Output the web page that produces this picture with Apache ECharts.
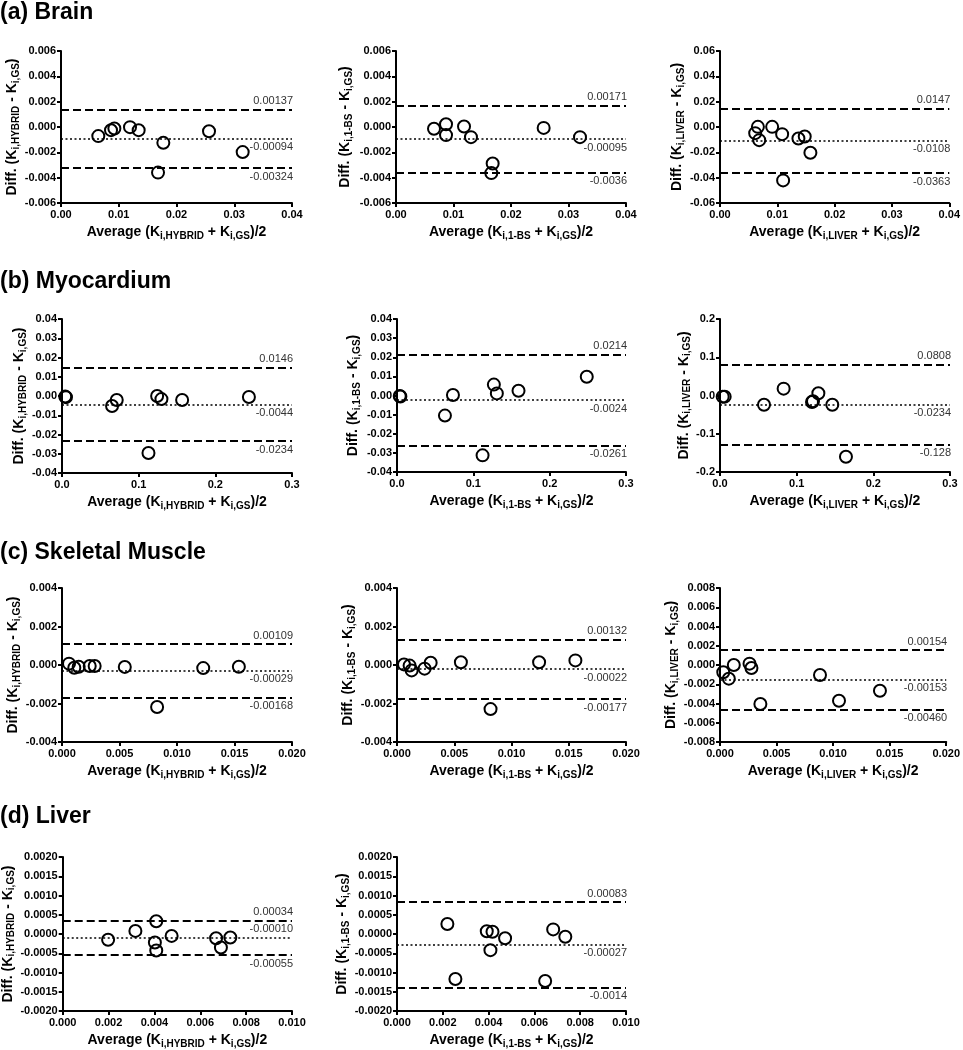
<!DOCTYPE html>
<html><head><meta charset="utf-8">
<script src="https://cdn.jsdelivr.net/npm/echarts@6/dist/echarts.min.js"></script>
<style>html,body{margin:0;padding:0;background:#fff}#c{width:963px;height:1050px}</style>
</head><body><div id="c"></div>
<script>
// ---------- DATA ----------
const rowHeadings = ['(a) Brain', '(b) Myocardium', '(c) Skeletal Muscle', '(d) Liver'];
const panelMethods = ['HYBRID', '1-BS', 'LIVER', 'HYBRID', '1-BS', 'LIVER', 'HYBRID', '1-BS', 'LIVER', 'HYBRID', '1-BS'];
const panelRows = [0, 0, 0, 1, 1, 1, 2, 2, 2, 3, 3];

// x-axis ticks per row: [min, max, interval, decimals]
const xTickRows = [[0, 0.04, 0.01, 2], [0, 0.3, 0.1, 1], [0, 0.02, 0.005, 3], [0, 0.01, 0.002, 3]];
// y-axis ticks per panel: [min, max, interval, decimals]
const yTickPanels = [
  [-0.006, 0.006, 0.002, 3], [-0.006, 0.006, 0.002, 3], [-0.06, 0.06, 0.02, 2],
  [-0.04, 0.04, 0.01, 2], [-0.04, 0.04, 0.01, 2], [-0.2, 0.2, 0.1, 1],
  [-0.004, 0.004, 0.002, 3], [-0.004, 0.004, 0.002, 3], [-0.008, 0.008, 0.002, 3],
  [-0.002, 0.002, 0.0005, 4], [-0.002, 0.002, 0.0005, 4]
];

// Brain
const brainHybridX = [0.00646, 0.00866, 0.00924, 0.01195, 0.01345, 0.01772, 0.0168, 0.02563, 0.03146];
const brainHybridY = [-0.00072, -0.00025, -0.00012, -0.00001, -0.00025, -0.00125, -0.0036, -0.00033, -0.00198];
const brainHybridLimits = ['0.00137', '-0.00094', '-0.00324'];
const brain1bsX = [0.00661, 0.0087, 0.0087, 0.01183, 0.01304, 0.01681, 0.01658, 0.02568, 0.032];
const brain1bsY = [-0.00014, 0.00022, -0.00064, 0.00004, -0.0008, -0.00288, -0.00364, -0.00007, -0.0008];
const brain1bsLimits = ['0.00171', '-0.00095', '-0.0036'];
const brainLiverX = [0.00614, 0.00661, 0.00684, 0.0091, 0.01084, 0.01368, 0.01478, 0.01577, 0.01101];
const brainLiverY = [-0.00486, 0.0001, -0.01037, 0.0001, -0.00565, -0.00906, -0.00748, -0.02035, -0.04215];
const brainLiverLimits = ['0.0147', '-0.0108', '-0.0363'];
// Myocardium
const myoHybridX = [0.0042, 0.0052, 0.0653, 0.0714, 0.1241, 0.1297, 0.1567, 0.2438, 0.1128];
const myoHybridY = [-0.0003, -0.0006, -0.0052, -0.0021, 0.0, -0.0016, -0.0021, -0.0005, -0.0296];
const myoHybridLimits = ['0.0146', '-0.0044', '-0.0234'];
const myo1bsX = [0.0036, 0.0044, 0.0628, 0.0733, 0.1269, 0.1308, 0.1592, 0.2486, 0.1121];
const myo1bsY = [-0.0003, -0.0005, -0.0105, 0.0003, 0.0057, 0.0011, 0.0025, 0.0098, -0.0313];
const myo1bsLimits = ['0.0214', '-0.0024', '-0.0261'];
const myoLiverX = [0.0035, 0.0061, 0.0574, 0.083, 0.12, 0.1213, 0.1283, 0.1465, 0.1643];
const myoLiverY = [-0.003, -0.003, -0.024, 0.0179, -0.017, -0.015, 0.0057, -0.024, -0.16];
const myoLiverLimits = ['0.0808', '-0.0234', '-0.128'];
// Skeletal muscle
const muscleHybridX = [0.00061, 0.00107, 0.00145, 0.00241, 0.00284, 0.00546, 0.00827, 0.01228, 0.01538];
const muscleHybridY = [0.00007, -0.00014, -0.00009, -0.00005, -0.00005, -0.0001, -0.00218, -0.00016, -0.00009];
const muscleHybridLimits = ['0.00109', '-0.00029', '-0.00168'];
const muscle1bsX = [0.00061, 0.0011, 0.00128, 0.00241, 0.00294, 0.00558, 0.00817, 0.01241, 0.01558];
const muscle1bsY = [0.00003, -0.00003, -0.00028, -0.00019, 0.00012, 0.00014, -0.00229, 0.00014, 0.00024];
const muscle1bsLimits = ['0.00132', '-0.00022', '-0.00177'];
const muscleLiverX = [0.00029, 0.00078, 0.00122, 0.00261, 0.00278, 0.00357, 0.00884, 0.01052, 0.01414];
const muscleLiverY = [-0.00076, -0.00142, 0.0, 0.00014, -0.00031, -0.00405, -0.00104, -0.00371, -0.00267];
const muscleLiverLimits = ['0.00154', '-0.00153', '-0.00460'];
// Liver
const liverHybridX = [0.00198, 0.00317, 0.00408, 0.00402, 0.00408, 0.00475, 0.00669, 0.0069, 0.00731];
const liverHybridY = [-0.00015, 0.00008, 0.00033, -0.00022, -0.00043, -0.00005, -0.00011, -0.00035, -0.00009];
const liverHybridLimits = ['0.00034', '-0.00010', '-0.00055'];
const liver1bsX = [0.0022, 0.00255, 0.00392, 0.00417, 0.00408, 0.00472, 0.00647, 0.00682, 0.00735];
const liver1bsY = [0.00026, -0.00117, 0.00007, 0.00006, -0.00042, -0.00011, -0.00122, 0.00012, -0.00007];
const liver1bsLimits = ['0.00083', '-0.00027', '-0.0014'];

const panelX = [brainHybridX, brain1bsX, brainLiverX, myoHybridX, myo1bsX, myoLiverX, muscleHybridX, muscle1bsX, muscleLiverX, liverHybridX, liver1bsX];
const panelY = [brainHybridY, brain1bsY, brainLiverY, myoHybridY, myo1bsY, myoLiverY, muscleHybridY, muscle1bsY, muscleLiverY, liverHybridY, liver1bsY];
const panelLimits = [brainHybridLimits, brain1bsLimits, brainLiverLimits, myoHybridLimits, myo1bsLimits, myoLiverLimits, muscleHybridLimits, muscle1bsLimits, muscleLiverLimits, liverHybridLimits, liver1bsLimits];

// ---------- LAYOUT ----------
const gridBoxes = [
  [61, 51, 231, 152], [396, 51, 230, 152], [720, 51, 230, 152],
  [62, 319, 230, 154], [397, 319, 229, 153], [720, 319, 230, 153],
  [62, 588, 230, 154], [397, 588, 229, 154], [720, 588, 230, 154],
  [62, 857, 230, 155], [397, 857, 229, 155]
];
const headingTops = [1, 270, 541, 805];
const yNameGaps = [40, 42, 32, 33, 35, 27, 39, 39, 39, 46, 44];
const meanLabelPos = ['insideEndBottom', 'insideEndBottom', 'insideEndBottom', 'insideEndBottom', 'insideEndBottom', 'insideEndBottom', 'insideEndBottom', 'insideEndBottom', 'insideEndBottom', 'insideEndTop', 'insideEndBottom'];

const FONT = "'Liberation Sans', Arial, sans-serif";
const richStyle = {
  m: { fontSize: 14, fontWeight: 'bold', fontFamily: FONT, color: '#000', lineHeight: 17 },
  s: { fontSize: 10, fontWeight: 'bold', fontFamily: FONT, color: '#000', verticalAlign: 'bottom' }
};
function fmt(v, d) { if (Math.abs(v) < 1e-12) v = 0; return v.toFixed(d); }

const grids = [], xAxes = [], yAxes = [], series = [];
panelMethods.forEach((m, i) => {
  const g = gridBoxes[i];
  grids.push({ left: g[0], top: g[1], width: g[2], height: g[3], containLabel: false });
  const xs = xTickRows[panelRows[i]];
  const ys = yTickPanels[i];
  const axisCommon = {
    axisLine: { show: true, onZero: false, lineStyle: { color: '#000', width: 2 } },
    axisTick: { show: true, length: 4, lineStyle: { color: '#000', width: 2 } },
    splitLine: { show: false }
  };
  xAxes.push(Object.assign({
    type: 'value', gridIndex: i, min: xs[0], max: xs[1], interval: xs[2],
    axisLabel: { formatter: v => fmt(v, xs[3]), fontSize: 11, fontWeight: 'bold', fontFamily: FONT, color: '#000', margin: 6 },
    name: '{m|Average (K}{s|i,' + m + '}{m| + K}{s|i,GS}{m|)/2}',
    nameLocation: 'middle', nameGap: 21,
    nameTextStyle: { rich: richStyle }
  }, axisCommon));
  yAxes.push(Object.assign({
    type: 'value', gridIndex: i, min: ys[0], max: ys[1], interval: ys[2],
    axisLabel: { formatter: v => fmt(v, ys[3]), fontSize: 11, fontWeight: 'bold', fontFamily: FONT, color: '#000', margin: 5 },
    name: '{m|Diff. (K}{s|i,' + m + '}{m| - K}{s|i,GS}{m|)}',
    nameLocation: 'middle', nameGap: yNameGaps[i], nameRotate: 90,
    nameTextStyle: { rich: richStyle }
  }, axisCommon));
  const lim = panelLimits[i];
  const lblStyle = { fontSize: 11, fontFamily: FONT, color: '#333', distance: 3, offset: [4, 0] };
  series.push({
    type: 'scatter', xAxisIndex: i, yAxisIndex: i,
    data: panelX[i].map((x, k) => [x, panelY[i][k]]),
    symbol: 'circle', symbolSize: 12,
    itemStyle: { color: 'rgba(0,0,0,0)', borderColor: '#000', borderWidth: 2, opacity: 1 },
    markLine: {
      silent: true, symbol: 'none', animation: false, precision: 8,
      data: [
        { yAxis: parseFloat(lim[0]), lineStyle: { type: [8, 4], width: 1.8, color: '#000' }, label: Object.assign({ position: 'insideEndTop', formatter: lim[0] }, lblStyle) },
        { yAxis: parseFloat(lim[1]), lineStyle: { type: [2, 2.5], width: 1.6, color: '#000' }, label: Object.assign({ position: meanLabelPos[i], formatter: lim[1] }, lblStyle) },
        { yAxis: parseFloat(lim[2]), lineStyle: { type: [8, 4], width: 1.8, color: '#000' }, label: Object.assign({ position: 'insideEndBottom', formatter: lim[2] }, lblStyle) }
      ]
    }
  });
});

const titles = rowHeadings.map((t, r) => ({
  text: t, left: 0, top: headingTops[r], padding: 0,
  textStyle: { fontSize: 23, fontWeight: 'bold', fontFamily: FONT, color: '#000' }
}));

const chart = echarts.init(document.getElementById('c'), null, { renderer: 'canvas' });
chart.setOption({
  animation: false,
  backgroundColor: '#fff',
  title: titles,
  grid: grids, xAxis: xAxes, yAxis: yAxes, series: series
});
</script></body></html>
